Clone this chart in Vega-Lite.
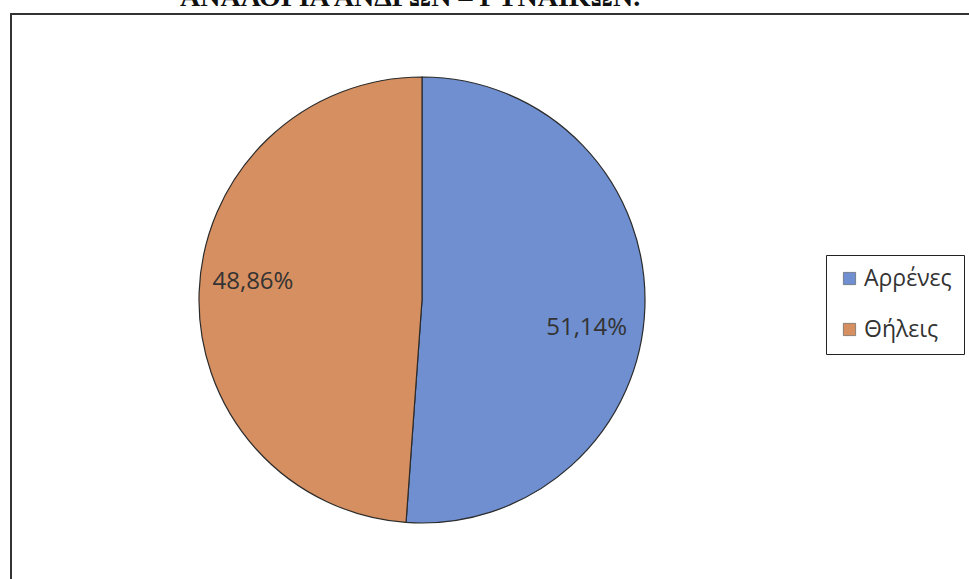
{
  "$schema": "https://vega.github.io/schema/vega-lite/v6.json",
  "autosize": "none",
  "width": 962,
  "height": 569,
  "padding": {"left": 11, "top": 14, "right": 0, "bottom": 0},
  "background": "#ffffff",
  "title": {
    "text": "ΑΝΑΛΟΓΙΑ ΑΝΔΡΩΝ – ΓΥΝΑΙΚΩΝ.",
    "anchor": "start",
    "frame": "group",
    "dx": 169,
    "dy": 24,
    "baseline": "alphabetic",
    "font": "Liberation Serif",
    "fontSize": 28,
    "fontWeight": "bold",
    "color": "#111111"
  },
  "config": {
    "view": {"stroke": "#333333", "strokeWidth": 2}
  },
  "resolve": {"scale": {"theta": "independent"}},
  "data": {
    "values": [
      {"sex": "Αρρένες", "share": 51.14, "pct": "51,14%", "rank": 1},
      {"sex": "Θήλεις", "share": 48.86, "pct": "48,86%", "rank": 2}
    ]
  },
  "layer": [
    {
      "mark": {"type": "point", "opacity": 0},
      "encoding": {
        "x": {"field": "rank", "type": "quantitative", "axis": null},
        "y": {"field": "share", "type": "quantitative", "axis": null}
      }
    },
    {
      "mark": {"type": "arc", "outerRadius": 223, "stroke": "#2b2b2b", "strokeWidth": 1.2, "x": 411, "y": 286},
      "encoding": {
        "theta": {"field": "share", "type": "quantitative", "stack": true},
        "order": {"field": "rank", "type": "quantitative"},
        "color": {
          "field": "sex",
          "type": "nominal",
          "scale": {"domain": ["Αρρένες", "Θήλεις"], "range": ["#6f8fd0", "#d68f60"]},
          "legend": {
            "title": null,
            "orient": "none",
            "legendX": 815,
            "legendY": 241,
            "strokeColor": "#222222",
            "padding": 12,
            "symbolType": "square",
            "symbolSize": 150,
            "symbolStrokeColor": "#555555",
            "symbolStrokeWidth": 0.6,
            "symbolOpacity": 1,
            "labelFont": "Open Sans",
            "labelFontSize": 23,
            "labelColor": "#333333",
            "labelOffset": 3,
            "rowPadding": 27
          }
        }
      }
    },
    {
      "layer": [
        {
          "transform": [{"filter": "datum.rank == 1"}],
          "mark": {"type": "text", "radius": 167, "x": 411, "y": 286, "font": "Open Sans", "fontSize": 24, "color": "#333333"},
          "encoding": {
            "theta": {"datum": 99.6, "type": "quantitative", "scale": {"domain": [0, 360]}},
            "text": {"field": "pct", "type": "nominal"}
          }
        },
        {
          "transform": [{"filter": "datum.rank == 2"}],
          "mark": {"type": "text", "radius": 170, "x": 411, "y": 286, "font": "Open Sans", "fontSize": 24, "color": "#333333"},
          "encoding": {
            "theta": {"datum": 276.1, "type": "quantitative", "scale": {"domain": [0, 360]}},
            "text": {"field": "pct", "type": "nominal"}
          }
        }
      ]
    }
  ]
}
